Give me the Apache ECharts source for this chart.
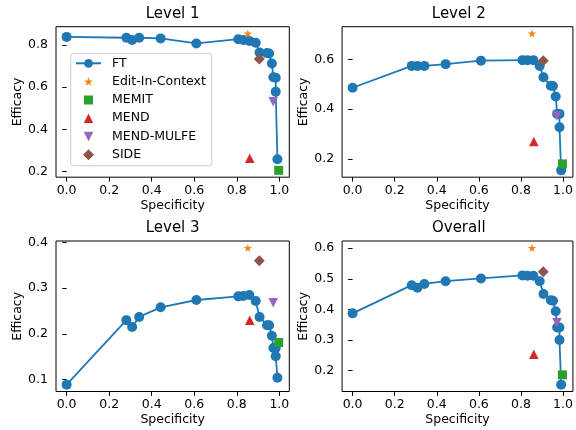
<!DOCTYPE html>
<html><head><meta charset="utf-8">
<script src="https://cdn.jsdelivr.net/npm/echarts@6/dist/echarts.min.js"></script>
<style>html,body{margin:0;padding:0;background:#fff}#c{width:576px;height:430px}</style>
</head><body><div id="c"></div>
<script>
// ---- data ----
const panelTitles = ['Level 1', 'Level 2', 'Level 3', 'Overall'];
const ftX = [0, 0.281, 0.308, 0.341, 0.442, 0.610, 0.807, 0.831, 0.859, 0.889, 0.907, 0.942, 0.952, 0.965, 0.972, 0.983, 0.983, 0.991];
const ftLevel1 = [0.839, 0.835, 0.824, 0.835, 0.832, 0.808, 0.828, 0.824, 0.820, 0.811, 0.765, 0.762, 0.760, 0.713, 0.647, 0.645, 0.579, 0.258];
const ftLevel2 = [0.486, 0.574, 0.574, 0.574, 0.581, 0.595, 0.597, 0.597, 0.597, 0.574, 0.528, 0.494, 0.493, 0.451, 0.381, 0.381, 0.327, 0.154];
const ftLevel3 = [0.089, 0.230, 0.215, 0.237, 0.258, 0.274, 0.282, 0.283, 0.285, 0.272, 0.237, 0.219, 0.219, 0.196, 0.169, 0.169, 0.151, 0.104];
const ftOverall = [0.387, 0.479, 0.471, 0.483, 0.492, 0.501, 0.511, 0.510, 0.510, 0.492, 0.450, 0.430, 0.428, 0.394, 0.341, 0.341, 0.300, 0.154];
const editX = 0.852;
const editY = [0.855, 0.704, 0.388, 0.601];
const memitX = 0.997;
const memitY = [0.205, 0.180, 0.181, 0.186];
const mendX = 0.861;
const mendY = [0.263, 0.270, 0.230, 0.253];
const mulfeX = 0.971;
const mulfeY = [0.531, 0.373, 0.268, 0.356];
const sideX = 0.906;
const sideY = [0.734, 0.595, 0.360, 0.523];
const xTicks = [0, 0.2, 0.4, 0.6, 0.8, 1.0];
const yTicksLevel1 = [0.2, 0.4, 0.6, 0.8];
const yTicksLevel2 = [0.2, 0.4, 0.6];
const yTicksLevel3 = [0.1, 0.2, 0.3, 0.4];
const yTicksOverall = [0.2, 0.3, 0.4, 0.5, 0.6];

// ---- styling / layout ----
const FONT = 'DejaVu Sans';
const ftYs = [ftLevel1, ftLevel2, ftLevel3, ftOverall];
const yTicks = [yTicksLevel1, yTicksLevel2, yTicksLevel3, yTicksOverall];
const STAR = 'path://M50,0 L61.8,34.5 L97.6,34.5 L68.5,55.9 L79.4,90.5 L50,69.1 L20.6,90.5 L31.5,55.9 L2.4,34.5 L38.2,34.5 Z';
// legend icons: shapes drawn inside a 250x110 box (same aspect as the 25x11 legend icon area)
const PAD = 'M0,0 L0.1,0 L0.1,0.1 Z M250,110 L249.9,110 L249.9,109.9 Z ';
function starIcon(){
  const s = 0.94, cx = 125, cy = 55;
  const pts = [[50,0],[61.8,34.5],[97.6,34.5],[68.5,55.9],[79.4,90.5],[50,69.1],[20.6,90.5],[31.5,55.9],[2.4,34.5],[38.2,34.5]];
  return 'path://' + PAD + pts.map((q,i) => (i ? 'L' : 'M') + (cx + (q[0]-50)*s).toFixed(1) + ',' + (cy + (q[1]-47)*s).toFixed(1)).join(' ') + ' Z';
}
const methods = [
  {name:'Edit-In-Context', x:editX, y:editY, color:'#ff7f0e', symbol:STAR, size:8.5, rot:0, icon: starIcon()},
  {name:'MEMIT', x:memitX, y:memitY, color:'#2ca02c', symbol:'rect', size:9, rot:0, icon:'path://' + PAD + 'M80,10 L170,10 L170,100 L80,100 Z'},
  {name:'MEND', x:mendX, y:mendY, color:'#d62728', symbol:'triangle', size:9.5, rot:0, icon:'path://' + PAD + 'M125,7.5 L172.5,102.5 L77.5,102.5 Z'},
  {name:'MEND-MULFE', x:mulfeX, y:mulfeY, color:'#9467bd', symbol:'triangle', size:9.5, rot:180, icon:'path://' + PAD + 'M77.5,7.5 L172.5,7.5 L125,102.5 Z'},
  {name:'SIDE', x:sideX, y:sideY, color:'#8c564b', symbol:'diamond', size:11, rot:0, icon:'path://' + PAD + 'M125,0 L180,55 L125,110 L70,55 Z'}
];
const colL = [56, 342.1], rowT = [26.7, 241], W = 233.3, H = 150.5;

function lims(vals){
  const mn = Math.min(...vals), mx = Math.max(...vals), r = mx - mn;
  return [mn - 0.05*r, mx + 0.05*r];
}
const allX = ftX.concat(methods.map(m => m.x));
const [xMin, xMax] = lims(allX);

const grids = [], xAxes = [], yAxes = [], titles = [], series = [];
const txt = {fontFamily: FONT, fontSize: 12.5, color: '#000'};
for (let p = 0; p < 4; p++) {
  const c = p % 2, r = Math.floor(p / 2);
  grids.push({left: colL[c], top: rowT[r], width: W, height: H, show: true, borderColor: '#000', borderWidth: 1, backgroundColor: 'transparent', containLabel: false});
  const allY = ftYs[p].concat(methods.map(m => m.y[p]));
  const [yMin, yMax] = lims(allY);
  xAxes.push({type: 'value', gridIndex: p, min: xMin, max: xMax,
    axisLine: {show: false}, splitLine: {show: false},
    axisTick: {show: true, length: 4.4, lineStyle: {color: '#000', width: 1}, customValues: xTicks},
    axisLabel: Object.assign({customValues: xTicks, formatter: v => v.toFixed(1), margin: 7}, txt),
    name: 'Specificity', nameLocation: 'middle', nameGap: 22, nameTextStyle: txt});
  yAxes.push({type: 'value', gridIndex: p, min: yMin, max: yMax,
    axisLine: {show: false}, splitLine: {show: false},
    axisTick: {show: true, length: 4.4, lineStyle: {color: '#000', width: 1}, customValues: yTicks[p]},
    axisLabel: Object.assign({customValues: yTicks[p], formatter: v => v.toFixed(1), margin: 8}, txt),
    name: 'Efficacy', nameLocation: 'middle', nameGap: 32, nameRotate: 90, nameTextStyle: txt});
  titles.push({text: panelTitles[p], left: colL[c] + W/2, top: rowT[r] - 20, textAlign: 'center', padding: 0,
    textStyle: {fontFamily: FONT, fontSize: 15, fontWeight: 'normal', color: '#000'}});
  series.push({name: 'FT', type: 'line', xAxisIndex: p, yAxisIndex: p,
    data: ftX.map((x, i) => [x, ftYs[p][i]]),
    symbol: 'circle', symbolSize: 10, showSymbol: true, showAllSymbol: true,
    lineStyle: {color: '#1f77b4', width: 1.8}, itemStyle: {color: '#1f77b4'}, z: 2, silent: true});
  methods.forEach((m, k) => {
    series.push({name: m.name, type: 'scatter', xAxisIndex: p, yAxisIndex: p,
      data: [[m.x, m.y[p]]], symbol: m.symbol, symbolSize: m.size, symbolRotate: m.rot, symbolKeepAspect: true,
      itemStyle: {color: m.color, opacity: 1}, z: 3 + k, silent: true});
  });
}

const chart = echarts.init(document.getElementById('c'), null, {renderer: 'canvas'});
chart.setOption({
  animation: false,
  backgroundColor: '#fff',
  title: titles,
  grid: grids,
  xAxis: xAxes,
  yAxis: yAxes,
  legend: {
    orient: 'vertical', left: 70.7, top: 53.3, itemWidth: 25, itemHeight: 11, itemGap: 4.3,
    padding: [3, 6, 4, 4.3], borderColor: '#ccc', borderWidth: 1, borderRadius: 3,
    backgroundColor: 'rgba(255,255,255,0.8)',
    textStyle: {fontFamily: FONT, fontSize: 12.5, color: '#000', lineHeight: 14, padding: [0, 0, 0, 6]},
    data: [{name: 'FT'}].concat(methods.map(m => ({name: m.name, icon: m.icon}))),
    selectedMode: false
  },
  series: series
});
</script></body></html>
